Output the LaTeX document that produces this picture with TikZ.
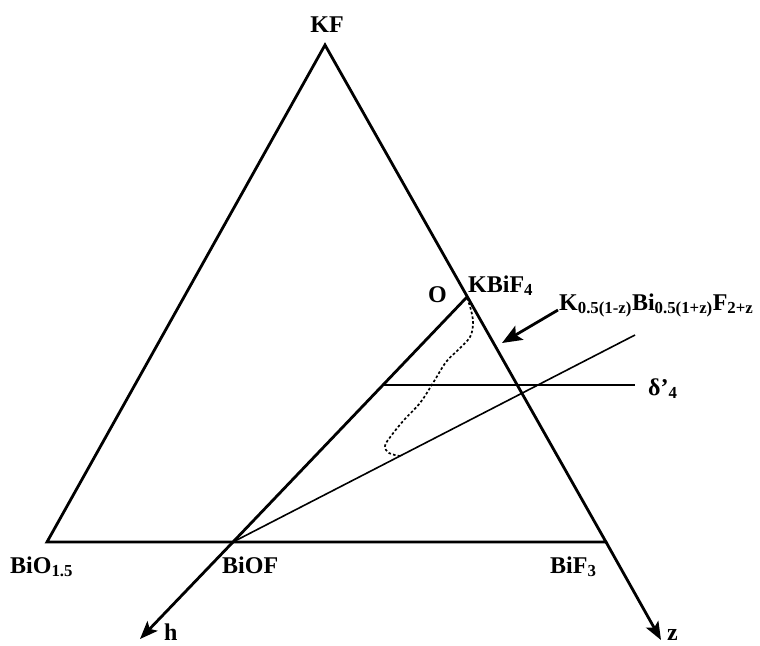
\documentclass[tikz,border=0pt]{standalone}
\usepackage{fontspec}
\setmainfont{Liberation Serif}
\usetikzlibrary{arrows.meta, positioning}

\begin{document}
\begin{tikzpicture}[
    x=1pt, y=-1pt,
    edge/.style={line width=2.8pt, line join=miter},
    thin line/.style={line width=1.6pt},
    axis/.style={line width=2.8pt, -{Stealth[length=18pt, width=14pt, inset=4pt]}},
    pointer/.style={line width=2.8pt, -{Stealth[length=20pt, width=16pt, inset=4pt]}},
    lbl/.style={font=\fontsize{24}{26}\selectfont\bfseries, inner sep=1pt},
    dotline/.style={line width=1.7pt, dash pattern=on 2.6pt off 2.2pt},
]
    \useasboundingbox (0,0) rectangle (760,645);

    % Corners and points
    \coordinate (kf) at (325,45);
    \coordinate (bio) at (47,542);
    \coordinate (bif) at (606,542);
    \coordinate (biof) at (233,542);
    \coordinate (o) at (467,297);
    \coordinate (htip) at (140,639);
    \coordinate (ztip) at (661,640);
    \coordinate (dl) at (383,385);
    \coordinate (dr) at (635,385);
    \coordinate (sr) at (635,335);
    \coordinate (ktip) at (502,343);

    % Triangle
    \draw[edge] (bio) -- (kf) -- (bif) -- cycle;

    % Axes
    \draw[axis] (o) -- (biof) -- (htip);
    \draw[axis] (bif) -- (ztip);

    % Lines
    \draw[thin line] (dl) -- (dr);
    \draw[thin line] (biof) -- (sr);

    % Domain
    \draw[dotline] plot[smooth, tension=0.6] coordinates {
        (467,298) (471,310) (473,323) (470,337) (458,350) (446,362)
        (433,383) (420,403) (404,420) (391,436) (385,446) (389,453) (400,456)};

    % Labels
    \node[lbl, anchor=base] (kflbl) at (327,32) {KF};
    \node[lbl, anchor=base west] (biolbl) at (9,573) {BiO\textsubscript{1.5}};
    \node[lbl, anchor=base west] (bioflbl) at (221,573) {BiOF};
    \node[lbl, anchor=base west] (biflbl) at (549,573) {BiF\textsubscript{3}};
    \node[lbl, anchor=base west] (olbl) at (427,302) {O};
    \node[lbl, anchor=base west] (kbiflbl) at (467,292) {KBiF\textsubscript{4}};
    \node[lbl, anchor=base west] (hlbl) at (163,640) {h};
    \node[lbl, anchor=base west] (zlbl) at (666,640) {z};
    \node[lbl, anchor=base west] (dlbl) at (647,395) {δ'\textsubscript{4}};
    \node[lbl, anchor=base west] (klbl) at (558,310)
        {K\textsubscript{0.5(1-z)}Bi\textsubscript{0.5(1+z)}F\textsubscript{2+z}};

    \draw[pointer] (klbl.base west) -- (ktip);
\end{tikzpicture}
\end{document}
